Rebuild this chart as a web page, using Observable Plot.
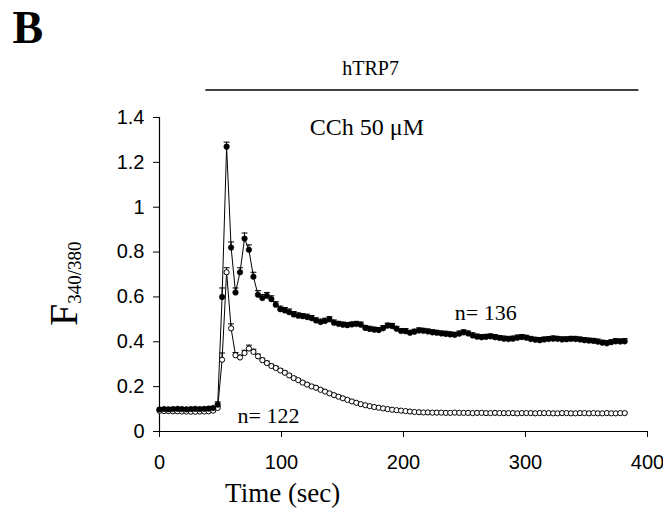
<!DOCTYPE html>
<html>
<head>
<meta charset="utf-8">
<script src="https://cdn.jsdelivr.net/npm/d3@7"></script>
<script src="https://cdn.jsdelivr.net/npm/@observablehq/plot@0.6"></script>
<style>
  html, body { margin: 0; padding: 0; background: #fff; }
</style>
</head>
<body>
<div id="chart"></div>
<script>
// ---- data ----
const times = [0, 3.7, 7.3, 11, 14.7, 18.3, 22, 25.7, 29.3, 33, 36.7, 40.3, 44, 47.7, 51.3, 55, 58.7, 62.3, 66, 69.7,
  73.3, 77, 80.7, 84.3, 88, 91.7, 95.3, 99, 102.7, 106.3, 110, 113.7, 117.3, 121, 124.7, 128.3, 132, 135.7, 139.3, 143,
  146.7, 150.3, 154, 157.7, 161.3, 165, 168.7, 172.3, 176, 179.7, 183.3, 187, 190.7, 194.3, 198, 201.7, 205.3, 209, 212.7, 216.3,
  220, 223.7, 227.3, 231, 234.7, 238.3, 242, 245.7, 249.3, 253, 256.7, 260.3, 264, 267.7, 271.3, 275, 278.7, 282.3, 286, 289.7,
  293.3, 297, 300.7, 304.3, 308, 311.7, 315.3, 319, 322.7, 326.3, 330, 333.7, 337.3, 341, 344.7, 348.3, 352, 355.7, 359.3, 363,
  366.7, 370.3, 374, 377.7, 381.3];

// filled circles, n = 136
const filledMean = [0.098, 0.100, 0.099, 0.100, 0.101, 0.100, 0.099, 0.100, 0.101, 0.100, 0.101, 0.102, 0.105, 0.12, 0.60,
  1.27, 0.82, 0.62, 0.71, 0.86, 0.81, 0.69, 0.61, 0.595, 0.605, 0.59, 0.565, 0.545, 0.54, 0.532,
  0.522, 0.516, 0.514, 0.51, 0.505, 0.495, 0.488, 0.493, 0.5, 0.485, 0.48, 0.476, 0.474, 0.477, 0.479,
  0.476, 0.462, 0.457, 0.454, 0.452, 0.46, 0.472, 0.47, 0.458, 0.448, 0.447, 0.44, 0.445, 0.45, 0.449,
  0.446, 0.442, 0.44, 0.437, 0.435, 0.433, 0.431, 0.436, 0.442, 0.437, 0.428, 0.423, 0.42, 0.422, 0.424,
  0.42, 0.417, 0.414, 0.412, 0.414, 0.418, 0.421, 0.418, 0.412, 0.409, 0.407, 0.41, 0.412, 0.414, 0.413,
  0.41, 0.411, 0.413, 0.412, 0.41, 0.407, 0.405, 0.404, 0.4, 0.396, 0.393, 0.398, 0.402, 0.401, 0.402];
const filledErr = [0.006, 0.005, 0.006, 0.005, 0.006, 0.005, 0.006, 0.005, 0.006, 0.005, 0.006, 0.006, 0.007, 0.012, 0.04,
  0.02, 0.025, 0.02, 0.02, 0.025, 0.022, 0.02, 0.018, 0.016, 0.015, 0.015, 0.014, 0.014, 0.013, 0.014,
  0.013, 0.013, 0.012, 0.013, 0.012, 0.012, 0.013, 0.012, 0.012, 0.012, 0.011, 0.012, 0.012, 0.011, 0.012,
  0.012, 0.011, 0.012, 0.011, 0.011, 0.012, 0.011, 0.012, 0.011, 0.011, 0.012, 0.011, 0.011, 0.012, 0.011,
  0.011, 0.012, 0.011, 0.011, 0.012, 0.011, 0.011, 0.012, 0.011, 0.011, 0.012, 0.011, 0.012, 0.011, 0.011,
  0.012, 0.011, 0.011, 0.012, 0.011, 0.012, 0.011, 0.011, 0.012, 0.011, 0.012, 0.011, 0.011, 0.012, 0.011,
  0.012, 0.011, 0.011, 0.012, 0.011, 0.012, 0.011, 0.011, 0.012, 0.011, 0.012, 0.011, 0.012, 0.011, 0.012];

// open circles, n = 122
const openMean = [0.092, 0.091, 0.091, 0.090, 0.090, 0.089, 0.089, 0.088, 0.088, 0.089, 0.089, 0.090, 0.093, 0.105, 0.32,
  0.71, 0.46, 0.34, 0.33, 0.35, 0.37, 0.355, 0.335, 0.318, 0.305, 0.292, 0.283, 0.272, 0.262, 0.25,
  0.238, 0.229, 0.218, 0.209, 0.201, 0.195, 0.186, 0.178, 0.17, 0.162, 0.155, 0.148, 0.141, 0.134, 0.128,
  0.122, 0.117, 0.113, 0.109, 0.106, 0.103, 0.1, 0.097, 0.095, 0.093, 0.091, 0.089, 0.087, 0.086, 0.085,
  0.085, 0.084, 0.084, 0.084, 0.083, 0.083, 0.084, 0.083, 0.083, 0.083, 0.082, 0.083, 0.083, 0.082, 0.082,
  0.083, 0.082, 0.082, 0.082, 0.082, 0.081, 0.082, 0.082, 0.082, 0.081, 0.082, 0.082, 0.082, 0.081, 0.081,
  0.082, 0.082, 0.081, 0.081, 0.082, 0.082, 0.081, 0.082, 0.081, 0.081, 0.082, 0.081, 0.081, 0.082, 0.082];
const openErr = [0.004, 0.004, 0.004, 0.004, 0.004, 0.004, 0.004, 0.004, 0.004, 0.004, 0.004, 0.004, 0.005, 0.006, 0.03,
  0.02, 0.02, 0.012, 0.01, 0.012, 0.015, 0.012, 0.01, 0.009, 0.009, 0.008, 0.008, 0.008, 0.007, 0.007,
  0.007, 0.007, 0.006, 0.006, 0.006, 0.006, 0.006, 0.005, 0.005, 0.005, 0.005, 0.005, 0.005, 0.005, 0.005,
  0.004, 0.004, 0.004, 0.004, 0.004, 0.004, 0.004, 0.004, 0.004, 0.004, 0.004, 0.004, 0.004, 0.004, 0.004,
  0.004, 0.004, 0.004, 0.004, 0.004, 0.004, 0.004, 0.004, 0.004, 0.004, 0.004, 0.004, 0.004, 0.004, 0.004,
  0.004, 0.004, 0.004, 0.004, 0.004, 0.004, 0.004, 0.004, 0.004, 0.004, 0.004, 0.004, 0.004, 0.004, 0.004,
  0.004, 0.004, 0.004, 0.004, 0.004, 0.004, 0.004, 0.004, 0.004, 0.004, 0.004, 0.004, 0.004, 0.004, 0.004];

const xTicks = [0, 100, 200, 300, 400];
const xTickLabels = ["0", "100", "200", "300", "400"];
const yTicks = [0, 0.2, 0.4, 0.6, 0.8, 1.0, 1.2, 1.4];
const yTickLabels = ["0", "0.2", "0.4", "0.6", "0.8", "1", "1.2", "1.4"];

const panelLabel = "B";
const constructLabel = "hTRP7";
const stimulusLabel = "CCh 50 \u03BCM";
const stimulusBar = [{x1: 38, x2: 393, y: 1.523}];
const seriesLabels = [
  {text: "n= 136", x: 242, y: 0.527},
  {text: "n= 122", x: 64, y: 0.071}
];
const xLabel = "Time (sec)";

// ---- tables ----
const filled = times.map((t, i) => ({t, v: filledMean[i], e: filledErr[i]}));
const open = times.map((t, i) => ({t, v: openMean[i], e: openErr[i]}));

const serif = "'Liberation Serif', 'Times New Roman', serif";
const sans = "'Liberation Sans', Arial, sans-serif";

const capSymbol = {
  draw(context, size) {
    const r = Math.sqrt(size / Math.PI);
    context.moveTo(-r, 0);
    context.lineTo(r, 0);
  }
};

const chart = Plot.plot({
  width: 663,
  height: 508,
  marginLeft: 159,
  marginRight: 16,
  marginTop: 117,
  marginBottom: 77,
  style: {background: "#fff", fontFamily: sans, fontSize: "20px", color: "#000"},
  x: {domain: [0, 400], label: null},
  y: {domain: [0, 1.4], label: null},
  marks: [
    Plot.axisX({ticks: xTicks, tickFormat: d => xTickLabels[xTicks.indexOf(d)], tickSize: 6, tickPadding: 17,
      fontSize: 20, fontFamily: sans, label: null, stroke: "#000", fill: "#000"}),
    Plot.axisY({ticks: yTicks, tickFormat: d => yTickLabels[yTicks.indexOf(d)], tickSize: 6, tickPadding: 9,
      fontSize: 20, fontFamily: sans, label: null, stroke: "#000", fill: "#000"}),
    Plot.ruleX([0], {stroke: "#000", strokeWidth: 1.2}),
    Plot.ruleY([0], {stroke: "#000", strokeWidth: 1.2}),
    // lines
    Plot.line(filled, {x: "t", y: "v", stroke: "#000", strokeWidth: 1}),
    Plot.line(open, {x: "t", y: "v", stroke: "#000", strokeWidth: 1}),
    // error bars (upward)
    Plot.ruleX(filled, {x: "t", y1: "v", y2: d => d.v + d.e, stroke: "#000", strokeWidth: 1}),
    Plot.dot(filled, {x: "t", y: d => d.v + d.e, r: 3, symbol: capSymbol, stroke: "#000", strokeWidth: 1, fill: "none"}),
    Plot.ruleX(open, {x: "t", y1: "v", y2: d => d.v + d.e, stroke: "#000", strokeWidth: 1}),
    Plot.dot(open, {x: "t", y: d => d.v + d.e, r: 3, symbol: capSymbol, stroke: "#000", strokeWidth: 1, fill: "none"}),
    // markers
    Plot.dot(open, {x: "t", y: "v", r: 2.6, fill: "#fff", stroke: "#000", strokeWidth: 1}),
    Plot.dot(filled, {x: "t", y: "v", r: 2.8, fill: "#000", stroke: "#000", strokeWidth: 0.5}),
    // annotations
    Plot.ruleY(stimulusBar, {x1: "x1", x2: "x2", y: "y", stroke: "#000", strokeWidth: 1.5}),
    Plot.text([constructLabel], {x: 173, y: 1.618, text: d => d, fontFamily: serif, fontSize: 20, fill: "#000", textAnchor: "middle"}),
    Plot.text([stimulusLabel], {x: 170, y: 1.355, text: d => d, fontFamily: serif, fontSize: 24, fill: "#000", textAnchor: "middle"}),
    Plot.text([panelLabel], {x: -108, y: 1.80, text: d => d, fontFamily: serif, fontSize: 46, fontWeight: "bold", fill: "#000", textAnchor: "middle"}),
    Plot.text(seriesLabels, {x: "x", y: "y", text: "text", fontFamily: serif, fontSize: 22, fill: "#000", textAnchor: "start"}),
    Plot.text([xLabel], {x: 101, y: -0.275, text: d => d, fontFamily: serif, fontSize: 27, fill: "#000", textAnchor: "middle"})
  ]
});

// y-axis title with subscript
const svg = d3.select(chart);
const yt = svg.append("text")
  .attr("transform", "translate(77,326) rotate(-90)")
  .attr("text-anchor", "start")
  .attr("font-family", serif)
  .attr("fill", "#000");
yt.append("tspan").attr("font-size", 40).text("F");
yt.append("tspan").attr("font-size", 19).attr("dy", 4).text("340/380");

document.getElementById("chart").append(chart);
</script>
</body>
</html>
